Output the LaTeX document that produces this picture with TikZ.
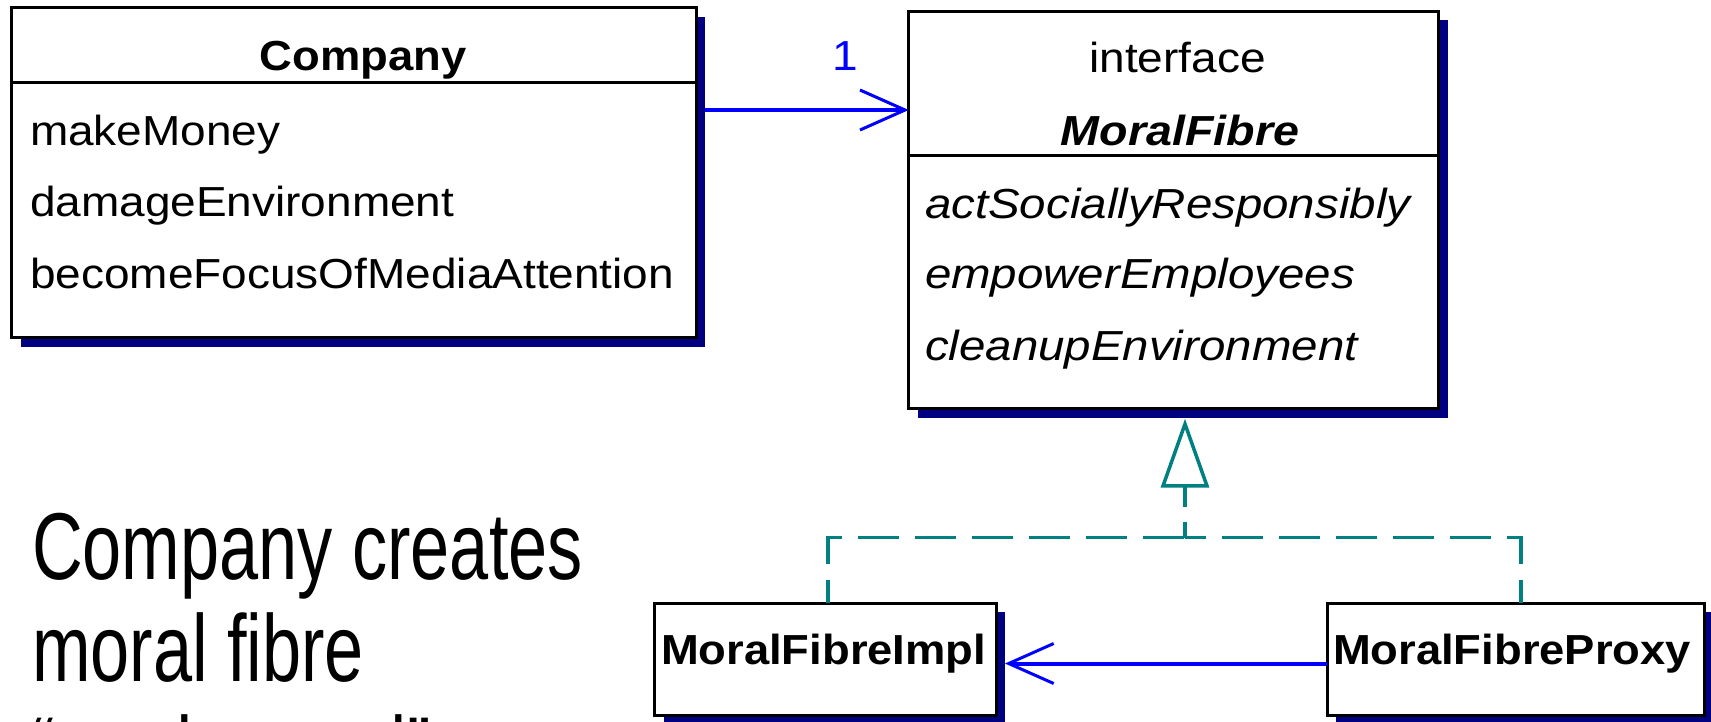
\documentclass[tikz,border=0pt]{standalone}
\usepackage{fontspec}
\setmainfont{Liberation Sans}
\newfontfamily\umlfont[FakeStretch=1.095]{Liberation Sans}
\newfontfamily\umlboldfont[FakeStretch=1.08]{Liberation Sans}
\newfontfamily\umlitfont[FakeStretch=1.13]{Liberation Sans}
\newfontfamily\umlbifont[FakeStretch=1.11]{Liberation Sans}
\newfontfamily\slidefont[FakeStretch=0.74]{Liberation Sans}
\usetikzlibrary{arrows.meta,shadows,calc}
\definecolor{navyshadow}{HTML}{000080}
\definecolor{umlblue}{HTML}{0000FF}
\definecolor{umlteal}{HTML}{008080}
\tikzset{
  classbox/.style={draw=black, line width=3pt, fill=white, rectangle, inner sep=0pt, outer sep=0pt,
    drop shadow={shadow xshift=9pt, shadow yshift=-9pt, fill=navyshadow, opacity=1}},
  sepline/.style={draw=black, line width=3pt},
  umltext/.style={inner sep=0pt, outer sep=0pt, font=\umlfont\fontsize{42pt}{50pt}\selectfont},
  umlbold/.style={umltext, font=\umlboldfont\fontsize{42pt}{50pt}\selectfont\bfseries},
  umlital/.style={umltext, font=\umlitfont\fontsize{42pt}{50pt}\selectfont\itshape},
  umlbi/.style={umltext, font=\umlbifont\fontsize{42pt}{50pt}\selectfont\bfseries\itshape},
  assoc/.style={draw=umlblue, line width=4pt, -{Straight Barb[length=45pt,width=40pt,line width=3pt]}},
  realline/.style={draw=umlteal, line width=3.5pt, dash pattern=on 41pt off 16pt},
  slidetext/.style={inner sep=0pt, outer sep=0pt, anchor=base west, font=\slidefont\fontsize{95pt}{100pt}\selectfont},
}
\begin{document}
\begin{tikzpicture}[x=1pt,y=-1pt]
\clip (0,0) rectangle (1711,721);
\fill[white] (0,0) rectangle (1711,721);

% Company class
\node[classbox, minimum width=684.5pt, minimum height=330pt] (company) at (353.75,172.5) {};
\draw[sepline] (company.west |- 0,82.5) -- (company.east |- 0,82.5);
\node[umlbold, anchor=base] (ctitle) at (363,70.7) {Company};
\node[umltext, anchor=base west] (cop1) at (30,145) {makeMoney};
\node[umltext, anchor=base west] (cop2) at (30,216.7) {damageEnvironment};
\node[umltext, anchor=base west] (cop3) at (30,288) {becomeFocusOfMediaAttention};

% MoralFibre interface
\node[classbox, minimum width=530pt, minimum height=397.4pt] (mf) at (1173.7,210) {};
\draw[sepline] (mf.west |- 0,155.5) -- (mf.east |- 0,155.5);
\node[umltext, anchor=base] (stereo) at (1177.5,72.7) {interface};
\node[umlbi, anchor=base] (mftitle) at (1180,145) {MoralFibre};
\node[umlital, anchor=base west] (mop1) at (925,218) {actSociallyResponsibly};
\node[umlital, anchor=base west] (mop2) at (925,288) {empowerEmployees};
\node[umlital, anchor=base west] (mop3) at (925,360) {cleanupEnvironment};

% Implementation and proxy
\node[classbox, minimum width=341.4pt, minimum height=112.3pt] (impl) at (825.3,659.2) {};
\node[umlbold, anchor=base west] (impltext) at (661,664) {MoralFibreImpl};
\node[classbox, minimum width=377pt, minimum height=112.3pt] (proxy) at (1515.5,659.2) {};
\node[umlbold, anchor=base west] (proxytext) at (1333,664) {MoralFibreProxy};

% association Company -> MoralFibre
\draw[assoc, shorten <=9pt] (company.east |- 0,110) -- (mf.west |- 0,110);
\node[umltext, anchor=base, text=umlblue] (mult) at (845,70) {1};

% association Proxy -> Impl
\draw[assoc, shorten >=9pt] (proxy.west |- 0,663.5) -- (impl.east |- 0,663.5);

% realization
\coordinate (junc) at (1185,537.5);
\draw[realline, dash phase=18pt] (impl.north -| 828,0) |- (junc);
\draw[realline, dash phase=18pt] (proxy.north -| 1521,0) |- (junc);
\draw[realline, dash pattern=on 16pt off 15pt on 30pt,
      -{Triangle[open,length=69pt,width=48pt,line width=3.5pt]}, shorten >=10pt]
  (junc) -- (mf.south -| junc);

% slide text
\node[slidetext] (t1) at (32,579) {Company creates};
\node[slidetext] (t2) at (32,681) {moral fibre};
\node[slidetext] (t3) at (32,783) {“on demand”};
\end{tikzpicture}
\end{document}
